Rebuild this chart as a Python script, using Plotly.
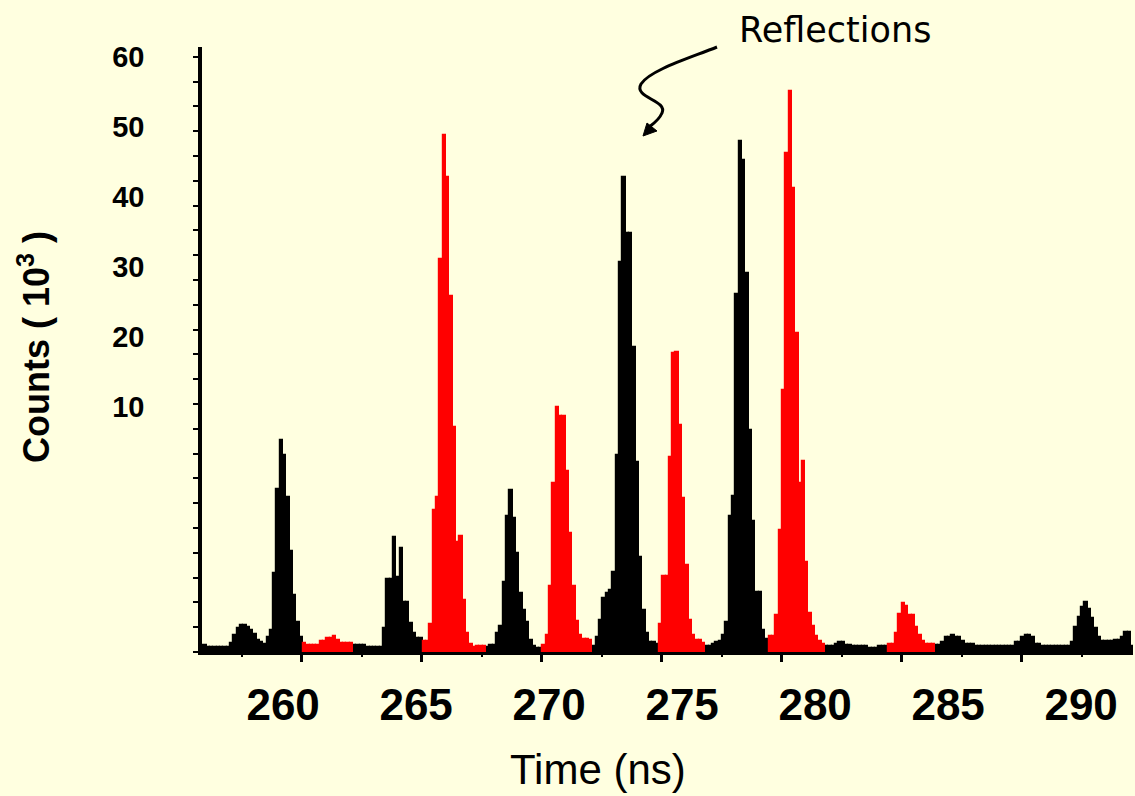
import plotly.graph_objects as go

# ---------------- data (counts read in units of the labelled axis, 10^3) -------------
T_START = 257.0      # ns, left edge of first histogram bin
BIN_NS = 0.125       # ns, histogram bin width
FLOOR = -25.0        # bottom of the count axis (as labelled in the original)

X_TICKS = [260, 265, 270, 275, 280, 285, 290]
X_LABELS = ["260", "265", "270", "275", "280", "285", "290"]
Y_TICKS = [10, 20, 30, 40, 50, 60]
Y_LABELS = ["10", "20", "30", "40", "50", "60"]

black_259 = [-24.0, -24.3, -24.3, -24.3, -24.3, -24.3, -24.3, -24.3, -23.7, -22.6,
             -21.6, -21.1, -21.1, -21.4, -21.9, -22.4, -23.3, -23.6, -23.9, -22.9,
             -21.9, -13.7, -1.7, 5.3, 3.1, -2.9, -10.6, -16.9, -20.7, -22.9]
red_261 = [-23.7, -24.0, -24.0, -24.0, -24.0, -23.4, -23.4, -23.0, -23.0, -22.7,
           -23.3, -23.7, -23.7, -23.7, -23.7]
black_264 = [-24.0, -24.0, -24.0, -24.0, -24.3, -24.3, -24.3, -24.3, -24.3, -21.5,
             -14.6, -14.6, -8.6, -14.3, -10.1, -17.9, -17.9, -20.9, -22.3, -23.0, -23.0]
red_266 = [-23.4, -23.4, -21.0, -4.7, -2.9, 31.1, 48.9, 42.9, 25.9, 7.1,
           -9.3, -8.4, -17.6, -22.3, -23.9, -24.3, -24.2, -24.2, -24.2]
black_268 = [-24.3, -24.0, -24.0, -22.3, -21.3, -15.0, -5.6, -1.9, -5.8, -10.9,
             -16.6, -19.0, -20.7, -23.3, -24.2, -24.4, -24.4]
red_271 = [-24.0, -22.5, -15.6, -0.9, 10.0, 8.7, 8.7, 0.9, -8.0, -15.6,
           -20.6, -22.6, -23.1, -23.1, -23.3]
black_273 = [-24.2, -22.8, -20.4, -17.3, -16.5, -16.1, -13.5, 3.1, 30.7, 42.9,
             34.9, 34.9, 18.6, 2.1, -11.4, -19.0, -22.3, -23.5, -23.5, -23.9]
red_275 = [-21.0, -14.2, -14.2, 2.9, 17.7, 17.8, 7.4, -3.0, -12.6, -20.4,
           -22.6, -23.3, -23.3, -23.7]
black_278 = [-24.1, -24.1, -23.9, -23.6, -23.4, -22.6, -20.7, -5.6, -2.7, 26.2,
             48.0, 45.3, 29.1, 6.7, -6.3, -16.4, -16.4, -21.8, -23.1]
red_280 = [-22.7, -22.7, -19.7, -7.6, 12.4, 46.3, 55.1, 41.3, 20.6, -0.9,
           2.3, -12.1, -19.4, -21.3, -22.7, -23.4, -23.8]
black_282 = [-24.2, -24.2, -24.2, -23.9, -23.6, -23.6, -24.0, -24.0, -24.2, -24.2,
             -24.2, -24.2, -24.2, -24.4, -24.4, -24.4, -24.1, -24.1, -24.1]
red_284 = [-23.9, -23.9, -22.3, -19.6, -18.0, -18.4, -19.7, -19.7, -21.4, -22.5,
           -23.4, -23.8, -23.8, -23.8]
black_287 = [-24.0, -24.0, -23.5, -22.8, -22.8, -22.5, -22.8, -22.8, -23.4, -23.9,
             -23.9, -23.9, -24.1, -24.1, -24.1, -24.1, -24.1, -24.1, -24.2, -24.2,
             -24.2, -24.2, -24.2, -24.2, -23.5, -23.5, -22.8, -22.6, -22.6, -22.8,
             -23.8, -23.8, -24.1, -24.1, -24.1, -24.1, -24.1, -24.1, -24.1, -24.1,
             -24.1, -23.5, -21.4, -20.0, -18.5, -17.8, -18.8, -20.2, -21.6, -22.8,
             -23.4, -23.4, -23.4, -23.4, -23.3, -23.3, -22.8, -22.1, -22.1, -24.2]

SEGMENTS = [("black", black_259), ("red", red_261), ("black", black_264),
            ("red", red_266), ("black", black_268), ("red", red_271),
            ("black", black_273), ("red", red_275), ("black", black_278),
            ("red", red_280), ("black", black_282), ("red", red_284),
            ("black", black_287)]

# ---------------- build bins -------------
xs = {"black": [], "red": []}
ys = {"black": [], "red": []}
k = 0
for col, vals in SEGMENTS:
    for v in vals:
        xs[col].append(T_START + BIN_NS * (k + 0.5))
        ys[col].append(v)
        k += 1

COLORS = {"black": "#000000", "red": "#FF0000"}
BG = "#FFFFE0"
FONT = "Liberation Sans, Arial, sans-serif"
X_RANGE = [256.95, 291.95]
Y_RANGE = [FLOOR, 61.43]

fig = go.Figure()
fig.add_trace(go.Bar(
    x=xs["black"], y=[v - FLOOR for v in ys["black"]], base=FLOOR, width=BIN_NS,
    marker=dict(color=COLORS["black"], line=dict(color=COLORS["black"], width=1.2)),
    xaxis="x", yaxis="y", showlegend=False, hoverinfo="skip"))
fig.add_trace(go.Bar(
    x=xs["red"], y=[v - FLOOR for v in ys["red"]], base=FLOOR, width=BIN_NS,
    marker=dict(color=COLORS["red"], line=dict(color=COLORS["red"], width=1.2)),
    xaxis="x2", yaxis="y", showlegend=False, hoverinfo="skip"))

W, H = 1135, 796
L, R, T, B = 202, 2, 47, 144
PW, PH = W - L - R, H - T - B


def px(xp, yp):
    """pixel position -> paper coordinates (for decorations)"""
    return (xp - L) / PW, (H - B - yp) / PH


fig.update_layout(
    width=W, height=H,
    margin=dict(l=L, r=R, t=T, b=B, pad=0),
    paper_bgcolor=BG, plot_bgcolor=BG,
    barmode="overlay", bargap=0,
    showlegend=False,
    xaxis=dict(
        range=X_RANGE, showline=True, linecolor="#000000", linewidth=3,
        showgrid=False, zeroline=False,
        tickmode="array", tickvals=X_TICKS, ticktext=X_LABELS,
        ticks="", ticklabelstandoff=12,
        tickfont=dict(family=FONT, size=44, color="#000000", weight="bold"),
    ),
    xaxis2=dict(
        range=X_RANGE, overlaying="x", anchor="y", side="bottom",
        showline=False, showgrid=False, zeroline=False, showticklabels=False,
        tickmode="linear", tick0=260.70, dtick=4.5113,
        ticks="outside", ticklen=9, tickwidth=3, tickcolor="#000000",
        minor=dict(tickmode="linear", tick0=260.70, dtick=2.2556,
                   ticks="outside", ticklen=4, tickwidth=2, tickcolor="#000000"),
    ),
    yaxis=dict(
        range=Y_RANGE, showline=True, linecolor="#000000", linewidth=3.5,
        showgrid=False, zeroline=False,
        tickmode="array", tickvals=Y_TICKS, ticktext=Y_LABELS,
        ticks="", ticklabelstandoff=48,
        tickfont=dict(family=FONT, size=29, color="#000000", weight="bold"),
        minor=dict(tickmode="linear", tick0=FLOOR, dtick=3.543,
                   ticks="outside", ticklen=5, tickwidth=2, tickcolor="#000000"),
    ),
)

# axis titles
ax, ay = px(34, 347)
fig.add_annotation(x=ax, y=ay, xref="paper", yref="paper", showarrow=False,
                   text="Counts ( 10<sup>3</sup> )", textangle=-90,
                   xanchor="center", yanchor="middle",
                   font=dict(family=FONT, size=36, color="#000000", weight="bold"))
tx, ty = px(598, 770)
fig.add_annotation(x=tx, y=ty, xref="paper", yref="paper", showarrow=False,
                   text="Time (ns)", xanchor="center", yanchor="middle",
                   font=dict(family=FONT, size=42, color="#000000"))

# "Reflections" call-out
rx, ry = px(835, 30)
fig.add_annotation(x=rx, y=ry, xref="paper", yref="paper", showarrow=False,
                   text="Reflections", xanchor="center", yanchor="middle",
                   font=dict(family="Comic Sans MS, DejaVu Sans, sans-serif",
                             size=35, color="#000000"))


def pt(a, b):
    x, y = px(a, b)
    return f"{x:.5f},{y:.5f}"


curve = (f"M {pt(717, 47)} C {pt(690, 58)} {pt(650, 70)} {pt(641, 84)} "
         f"C {pt(633, 98)} {pt(668, 100)} {pt(662, 113)} "
         f"C {pt(659, 120)} {pt(653, 124)} {pt(649, 127)}")
fig.add_shape(type="path", path=curve, xref="paper", yref="paper",
              line=dict(color="#000000", width=3))
head = f"M {pt(643, 136)} L {pt(647, 123)} L {pt(657, 131)} Z"
fig.add_shape(type="path", path=head, xref="paper", yref="paper",
              line=dict(color="#000000", width=1), fillcolor="#000000")

fig.write_html("out.html",
               config={"displayModeBar": False},
               post_script="document.body.style.margin='0px';"
                           "document.body.style.background='" + BG + "';")
